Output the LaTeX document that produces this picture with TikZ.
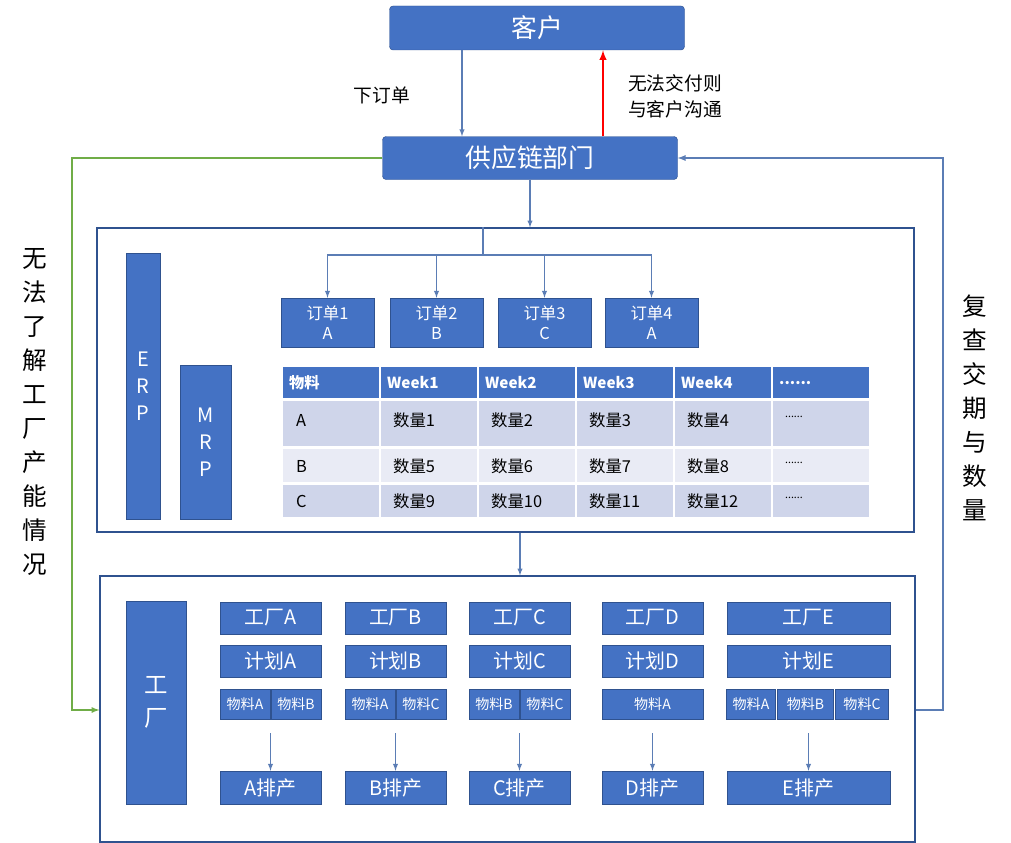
\documentclass[tikz,border=0pt]{standalone}
\usepackage{fontspec}
\setmainfont{Noto Sans CJK SC}
\usepackage{tikz}
\usetikzlibrary{positioning}
\usepackage{xcolor}
\definecolor{blu}{HTML}{4472C4}
\definecolor{bord}{HTML}{2F528F}
\definecolor{lnk}{HTML}{5B7DB5}
\definecolor{rowa}{HTML}{CFD5EA}
\definecolor{rowb}{HTML}{E9EBF5}
\definecolor{grn}{HTML}{70AD47}
\newcommand\tdots{......}
\tikzset{
  blk/.style 2 args={draw=bord,fill=blu,text=white,inner sep=0pt,
     minimum width=#1*0.03cm,minimum height=#2*0.03cm},
  cell/.style 2 args={fill=#1,inner sep=0pt,minimum width=96*0.03cm,
     minimum height=#2*0.03cm,anchor=north west},
  arr/.style={draw=lnk,line width=1pt,-latex},
}
\begin{document}
\begin{tikzpicture}[x=0.03cm,y=-0.03cm]
		\useasboundingbox (0,0) rectangle (1011,843);
		% top
		\node[blk={295}{44},font=\fontsize{22}{24}\selectfont,rounded corners=3pt] (kh) at (537,28) {客户};
		\node[blk={295}{43},font=\fontsize{22}{24}\selectfont,rounded corners=3pt] (gyl) at (530,158) {供应链部门};
		\draw[arr] (kh.south -| 462,0) to (gyl.north -| 462,0);
		\draw[draw=red,line width=1.8pt,-latex] (gyl.north -| 603,0) to (kh.south -| 603,0);
		\node[font=\fontsize{16}{18}\selectfont] (xdd) at (382,95) {下订单};
		\node[font=\fontsize{16}{22}\selectfont,align=left,anchor=west] (gt) at (624,96) {无法交付则\\与客户沟通};
		% panels
		\node[draw=bord,line width=1pt,inner sep=0pt,minimum width=817*0.03cm,minimum height=304*0.03cm] (p1) at (505.5,380) {};
		\node[draw=bord,line width=1pt,inner sep=0pt,minimum width=815*0.03cm,minimum height=266*0.03cm] (p2) at (507.5,709) {};
		\draw[arr] (gyl.south) to (p1.north -| gyl.south);
		\draw[arr] (p1.south -| 520,0) to (p2.north -| 520,0);
		% side loops
		\coordinate (gl) at (72,158);
		\coordinate (gb) at (72,710);
		\draw[draw=grn,line width=1.3pt,-latex] (gyl.west) -- (gl) -- (gb) -- (gb -| p2.west);
		\coordinate (bb) at (943,710);
		\coordinate (bt) at (943,158);
		\draw[arr,line width=1.3pt] (bb -| p2.east) -- (bb) -- (bt) -- (gyl.east);
		\node[font=\fontsize{21}{29}\selectfont,align=center] (lt) at (35,412) {无\\法\\了\\解\\工\\厂\\产\\能\\情\\况};
		\node[font=\fontsize{21}{29}\selectfont,align=center] (rt) at (975,408) {复\\查\\交\\期\\与\\数\\量};
		% ERP / MRP
		\node[blk={34}{266},font=\fontsize{17}{23}\selectfont,align=center] (erp) at (143,386) {E\\R\\P};
		\node[blk={51}{154},font=\fontsize{17}{23}\selectfont,align=center] (mrp) at (205.5,442) {M\\R\\P};
		% orders
		\coordinate (br) at (483,255);
		\draw[draw=lnk,line width=1pt] (p1.north -| br) -- (br) (327,255) -- (652,255);
		\foreach \i/\x/\m in {1/327.5/A,2/436.5/B,3/544.5/C,4/651.5/A}{
			\node[blk={93}{49},font=\fontsize{14}{17}\selectfont,align=center] (dd\i) at (\x,322.5) {订单\i\\\m};
			\draw[arr] (\x,255) to (dd\i.north);
		}
		% table
		\foreach \c/\x/\t in {0/283/物料,1/381/Week1,2/479/Week2,3/577/Week3,4/675/Week4,5/773/\tdots}{
			\node[cell={blu}{31},text=white,font=\bfseries\fontsize{13}{15}\selectfont,text width=84*0.03cm,align=left] (h\c) at (\x,367) {\t};
		}
		\foreach \c/\x in {0/283,1/381,2/479,3/577,4/675,5/773}{
			\node[cell={rowa}{45}] (ra\c) at (\x,401) {};
			\node[cell={rowb}{33}] (rb\c) at (\x,449) {};
			\node[cell={rowa}{32}] (rc\c) at (\x,485) {};
		}
		\foreach \r/\y/\a/\b/\c/\d/\m in {a/420/1/2/3/4/A,b/466/5/6/7/8/B,c/501/9/10/11/12/C}{
			\node[anchor=west,font=\fontsize{14}{16}\selectfont] (m\r) at (292,\y) {\m};
			\node[anchor=west,font=\fontsize{14}{16}\selectfont] (q\r1) at (389,\y) {数量\a};
			\node[anchor=west,font=\fontsize{14}{16}\selectfont] (q\r2) at (487,\y) {数量\b};
			\node[anchor=west,font=\fontsize{14}{16}\selectfont] (q\r3) at (585,\y) {数量\c};
			\node[anchor=west,font=\fontsize{14}{16}\selectfont] (q\r4) at (683,\y) {数量\d};
			\node[anchor=west,font=\fontsize{9}{10}\selectfont] (q\r5) at (781,\y-3) {\tdots};
		}
		% factories
		\node[blk={60}{203},font=\fontsize{20}{28}\selectfont,align=center] (gc) at (156,702.5) {工\\厂};
		\foreach \f/\x/\w in {A/270.5/101,B/395.5/101,C/519.5/101,D/652.5/101,E/808.5/163}{
			\node[blk={\w}{32},font=\fontsize{17}{19}\selectfont] (gc\f) at (\x,618) {工厂\f};
			\node[blk={\w}{32},font=\fontsize{17}{19}\selectfont] (jh\f) at (\x,661) {计划\f};
			\node[blk={\w}{33},font=\fontsize{17}{19}\selectfont] (pc\f) at (\x,787.5) {\f 排产};
			\draw[arr] (\x,733) to (pc\f.north);
		}
		\foreach \n/\x/\w/\t in {1/245/50/物料A,2/296/50/物料B,3/370/50/物料A,4/421/50/物料C,5/494/50/物料B,6/545/50/物料C,7/652.5/101/物料A,8/751/49/物料A,9/805.5/56/物料B,10/862/53/物料C}{
			\node[blk={\w}{30},font=\fontsize{12}{14}\selectfont] (wl\n) at (\x,704) {\t};
		}
\end{tikzpicture}
\end{document}
